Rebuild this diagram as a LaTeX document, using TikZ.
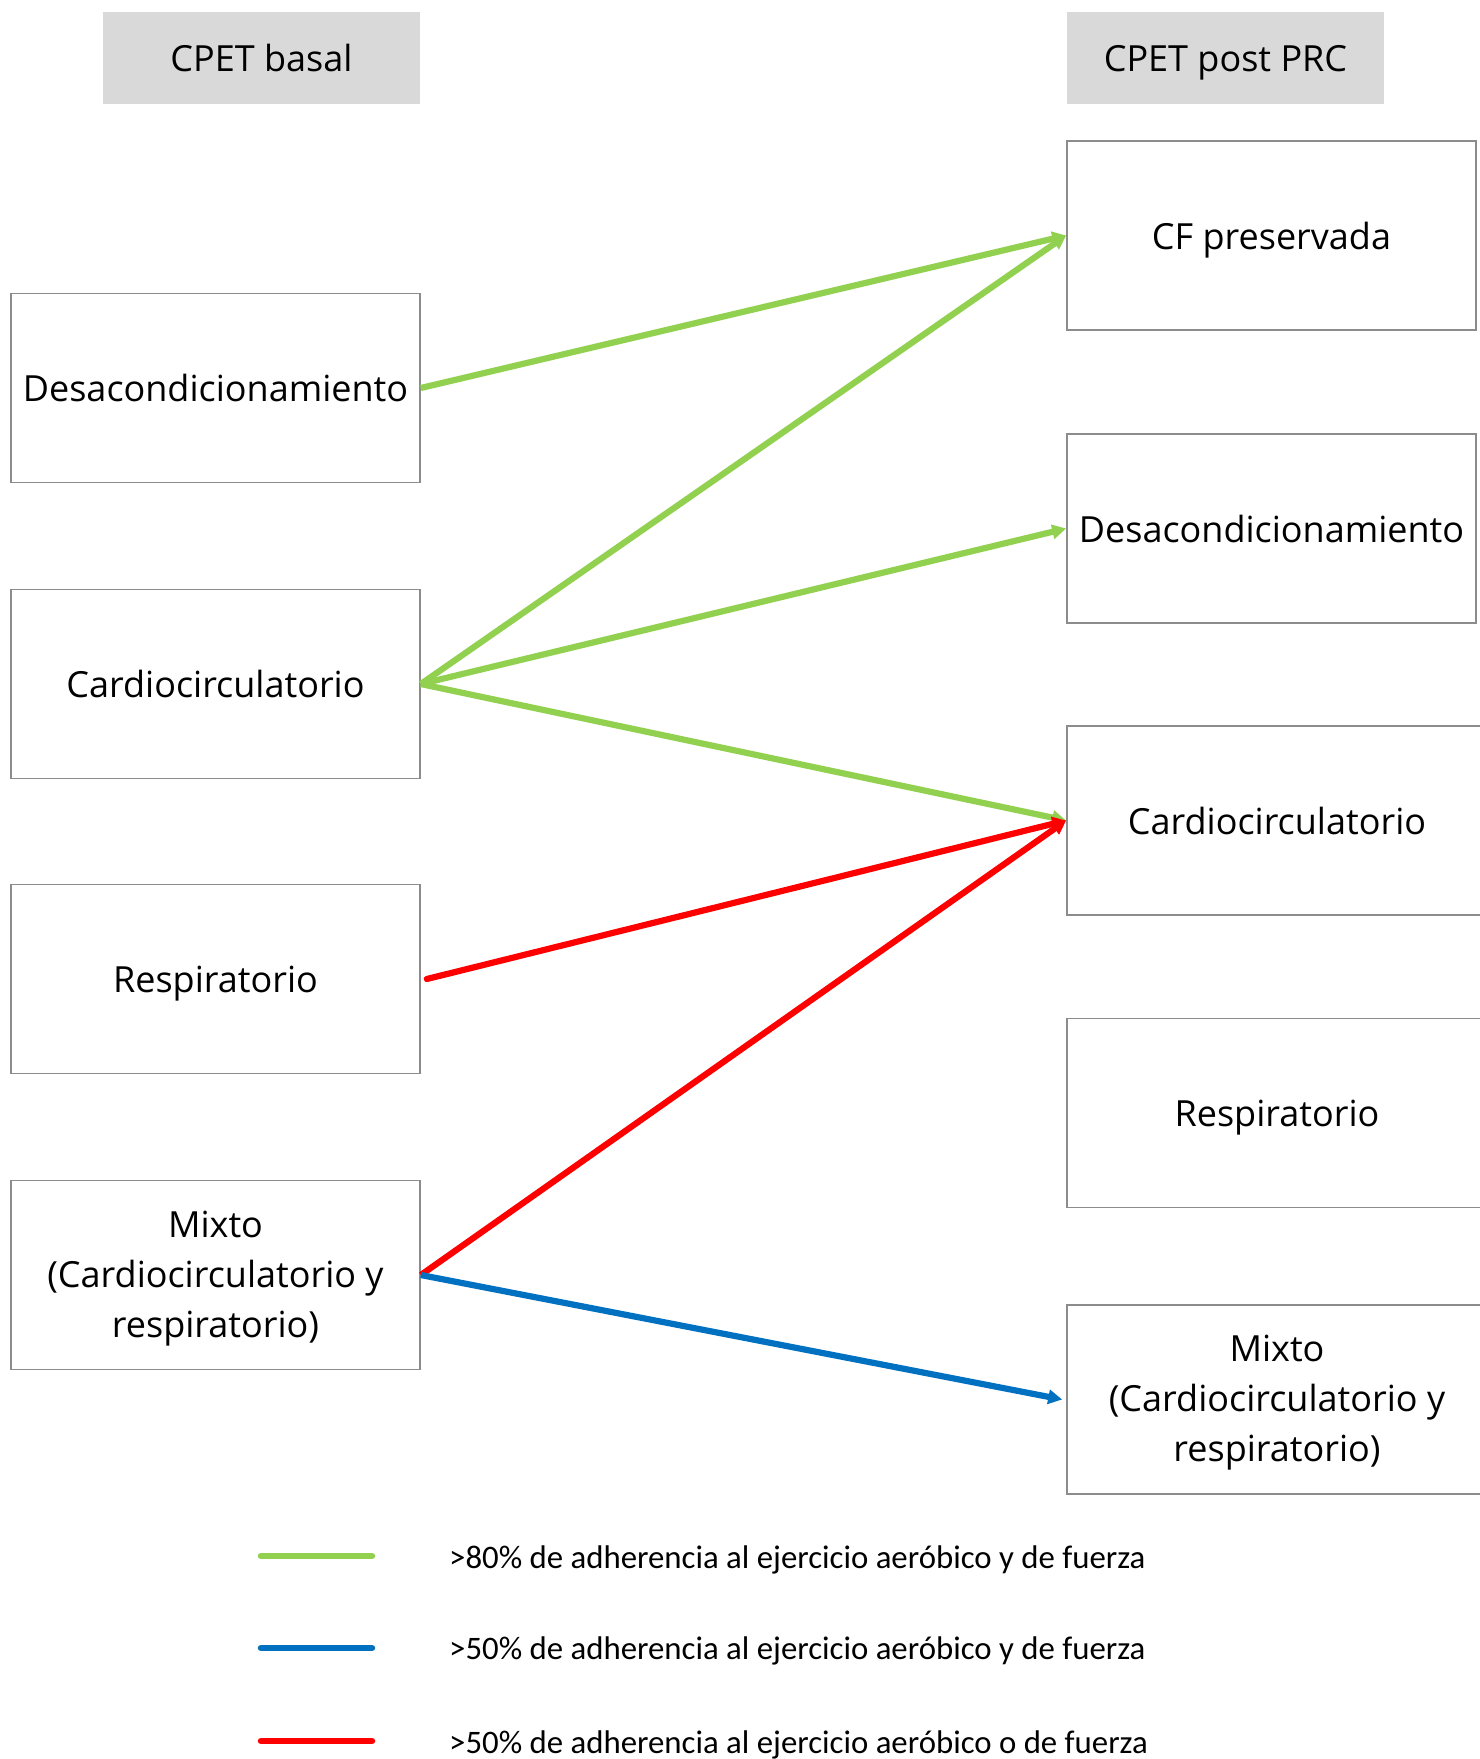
\documentclass[tikz,border=0pt]{standalone}
\usepackage{fontspec}
\setmainfont{Open Sans}
\newfontfamily\legfont{Carlito}
\usetikzlibrary{arrows.meta}
\definecolor{cgreen}{HTML}{92D050}
\definecolor{cblue}{HTML}{0070C0}
\definecolor{cred}{HTML}{FF0000}
\definecolor{hdrgray}{HTML}{D9D9D9}
\definecolor{boxgray}{HTML}{8C8C8C}
\begin{document}
\begin{tikzpicture}[x=1pt,y=-1pt,
  hdr/.style={fill=hdrgray,draw=none,minimum width=317pt,minimum height=92pt,font=\fontsize{36}{42}\selectfont,text height=27pt,text depth=0pt},
  mbox/.style={draw=boxgray,line width=1.6pt,fill=white,minimum width=409pt,minimum height=189pt,align=center,font=\fontsize{36}{50}\selectfont,inner sep=0pt},
  box/.style={mbox,text height=27pt,text depth=0pt},
  conn/.style={line width=6.2pt,-{Triangle[length=14pt,width=14pt]}},
  legline/.style={line width=6.5pt,line cap=round},
  legtxt/.style={anchor=west,font=\legfont\fontsize{32.8}{38}\selectfont,inner sep=0pt}]
\useasboundingbox (0,0) rectangle (1480,1759);
\fill[white] (0,0) rectangle (1480,1759);
% headers
\node[hdr] (hL) at (261.5,58) {CPET basal};
\node[hdr] (hR) at (1225.5,58) {CPET post PRC};
% left boxes
\node[box] (L1) at (215.5,388) {Desacondicionamiento};
\node[box] (L2) at (215.5,684) {Cardiocirculatorio};
\node[box] (L3) at (215.5,979) {Respiratorio};
\node[mbox] (L4) at (215.5,1275) {};
\node[align=center,font=\fontsize{36}{50}\selectfont,inner sep=0pt] (L4t) at (215.5,1278.5) {Mixto\\(Cardiocirculatorio y\\respiratorio)};
% right boxes
\node[box] (R1) at (1271.5,235.5) {CF preservada};
\node[box] (R2) at (1271.5,528.5) {Desacondicionamiento};
\node[box,minimum width=420pt] (R3) at (1277,820.5) {Cardiocirculatorio};
\node[box,minimum width=420pt] (R4) at (1277,1113) {Respiratorio};
\node[mbox,minimum width=420pt] (R5) at (1277,1399.5) {};
\node[align=center,font=\fontsize{36}{50}\selectfont,inner sep=0pt] (R5t) at (1277,1403) {Mixto\\(Cardiocirculatorio y\\respiratorio)};
% connectors
\coordinate (L3s) at ([xshift=6pt]L3.east);
\coordinate (R5e) at ([xshift=-4pt]R5.west);
\draw[conn,cgreen] (L1.east) -- (R1.west);
\draw[conn,cgreen] (L2.east) -- (R1.west);
\draw[conn,cgreen] (L2.east) -- (R2.west);
\draw[conn,cgreen] (L2.east) -- (R3.west);
\draw[conn,cred,line cap=round] (L3s) -- (R3.west);
\draw[conn,cred] (L4.east) -- (R3.west);
\draw[conn,cblue] (L4.east) -- (R5e);
% legend
\coordinate (g1) at (261,1556); \coordinate (g2) at (372,1556);
\coordinate (b1) at (261,1648); \coordinate (b2) at (372,1648);
\coordinate (r1) at (261,1741); \coordinate (r2) at (372,1741);
\draw[legline,cgreen] (g1) -- (g2);
\draw[legline,cblue] (b1) -- (b2);
\draw[legline,cred] (r1) -- (r2);
\node[legtxt] (t1) at (449,1560) {>80\% de adherencia al ejercicio aeróbico y de fuerza};
\node[legtxt] (t2) at (449,1651) {>50\% de adherencia al ejercicio aeróbico y de fuerza};
\node[legtxt] (t3) at (449,1745) {>50\% de adherencia al ejercicio aeróbico o de fuerza};
\end{tikzpicture}
\end{document}
